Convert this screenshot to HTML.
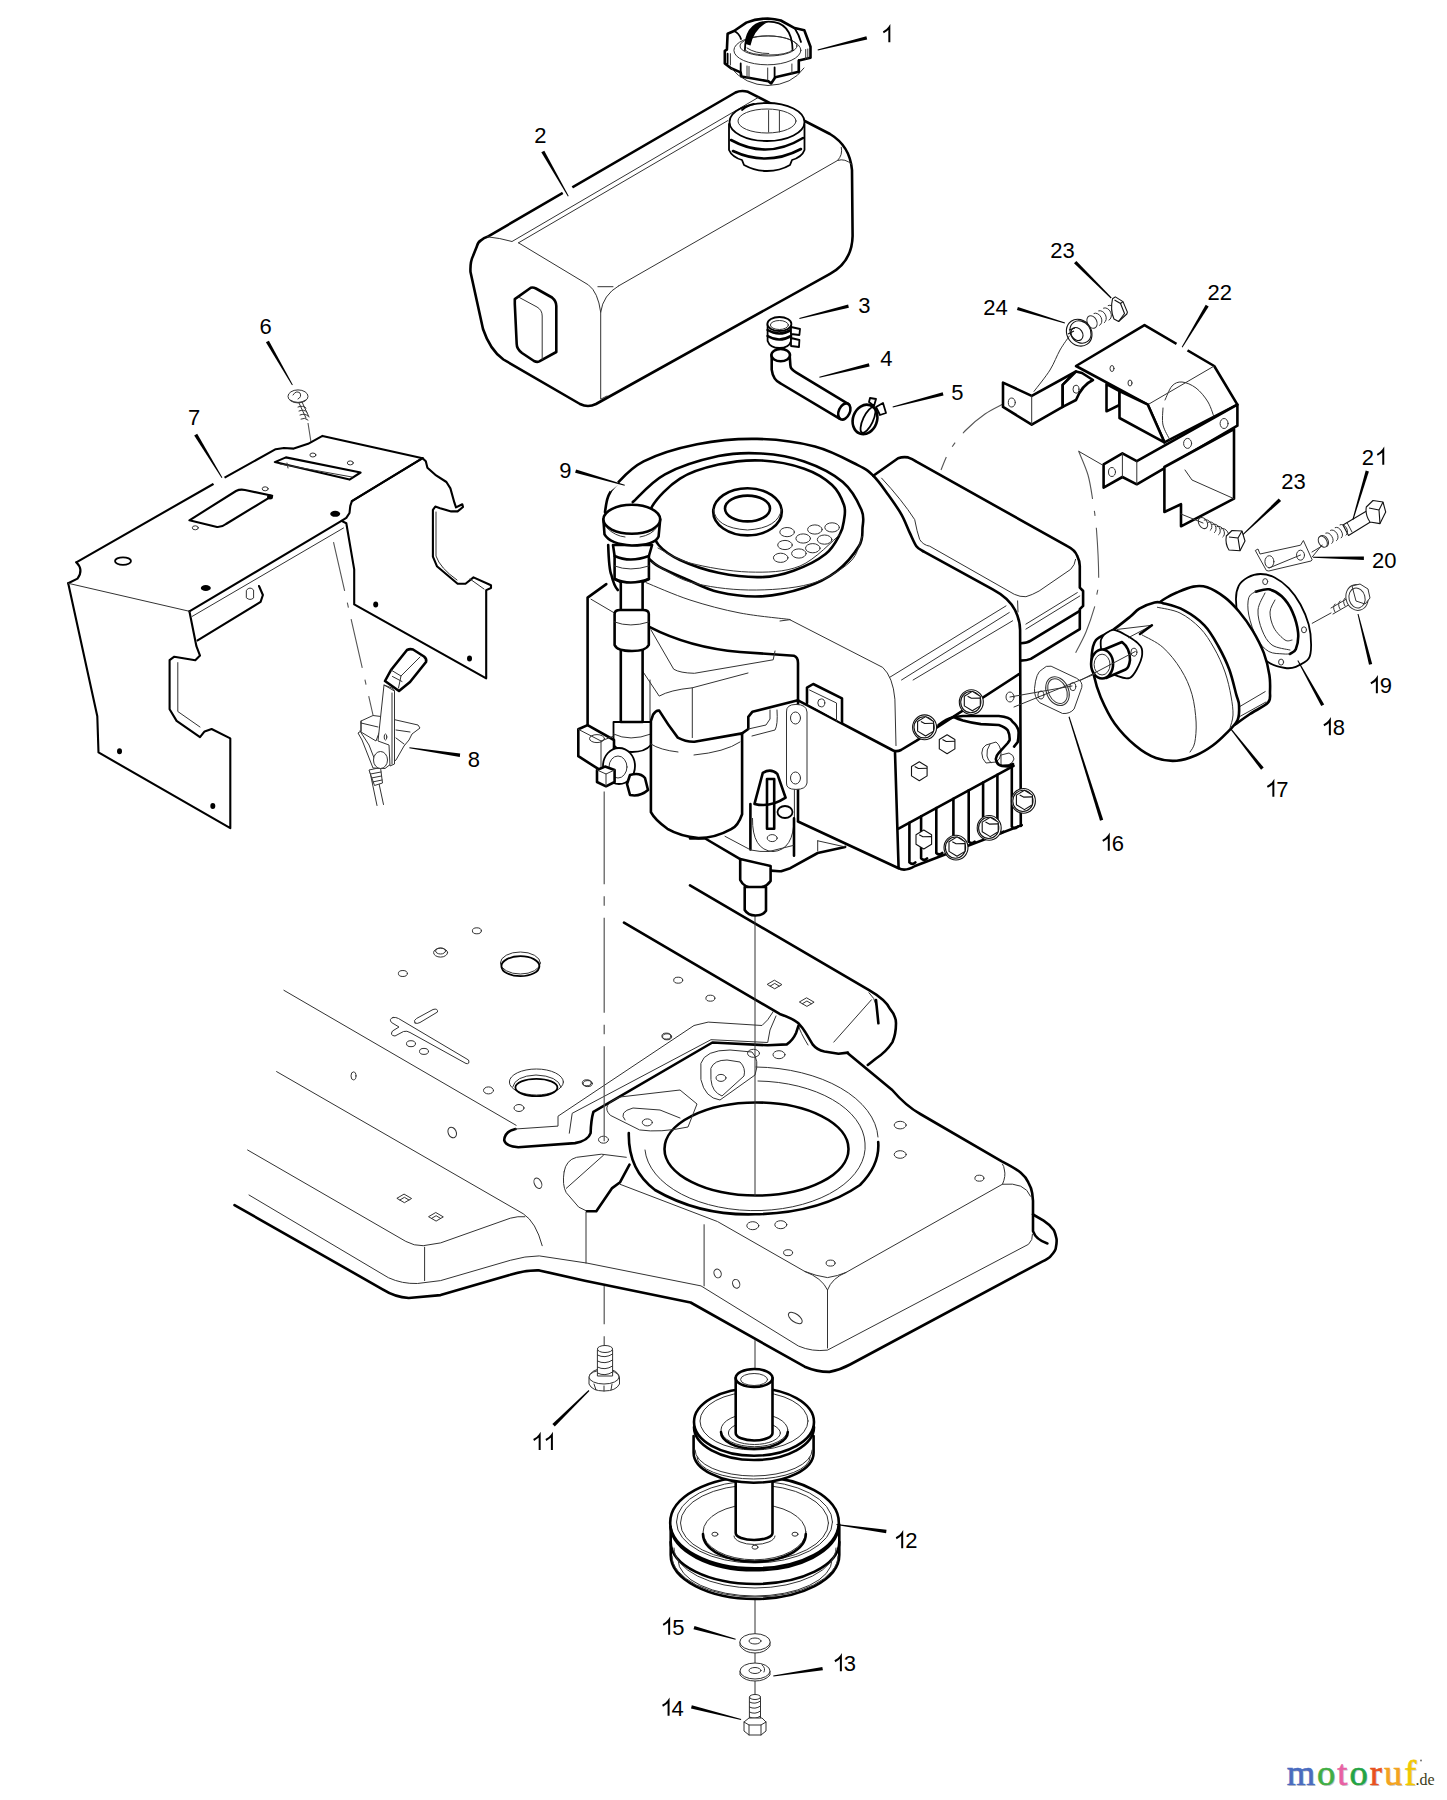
<!DOCTYPE html>
<html><head><meta charset="utf-8"><style>
html,body{margin:0;padding:0;background:#fff;overflow:hidden;}
svg{display:block;}
.k{fill:none;stroke:#000;stroke-width:2.6;stroke-linejoin:round;stroke-linecap:round;}
.kw{fill:#fff;stroke:#000;stroke-width:2.6;stroke-linejoin:round;stroke-linecap:round;}
.m{fill:none;stroke:#000;stroke-width:1.8;stroke-linejoin:round;stroke-linecap:round;}
.mw{fill:#fff;stroke:#000;stroke-width:1.8;stroke-linejoin:round;stroke-linecap:round;}
.t{fill:none;stroke:#333;stroke-width:1;stroke-linejoin:round;stroke-linecap:round;}
.tw{fill:#fff;stroke:#333;stroke-width:1;stroke-linejoin:round;}
.b{fill:none;stroke:#111;stroke-width:1.1;stroke-linejoin:round;}
.bw{fill:#fff;stroke:#111;stroke-width:1.1;stroke-linejoin:round;}
.bk{fill:none;stroke:#000;stroke-width:2.1;stroke-linejoin:round;stroke-linecap:round;}
.d{fill:none;stroke:#555;stroke-width:1.1;stroke-dasharray:50 12 5 12;}
.f{fill:#000;stroke:none;}
.w{fill:#fff;stroke:none;}
.ld{fill:none;stroke:#000;stroke-width:2.2;stroke-linecap:butt;}
text{font-family:"Liberation Sans",sans-serif;font-size:22px;fill:#000;}
</style></head><body>
<svg width="1447" height="1800" viewBox="0 0 1447 1800">
<g id="chassis">
<!-- left panel lines -->
<path class="t" d="M283.9,990.3 L516.1,1125.3"/>
<path class="t" d="M276.6,1071.6 L523.3,1213.8 Q536,1222 542.2,1245.7"/>
<path class="t" d="M247.6,1150 L405.8,1241.4 Q414,1246 423.2,1245.7 L440.6,1242.9 L510.3,1218.2 Q518,1216 524.8,1216.7"/>
<path class="t" d="M249,1195 L388.4,1277.7 Q402,1284 417.4,1283.5 L440.6,1280.6 L510.3,1260.3 Q525,1256 539.3,1255.9 L587,1263.1 L701,1285.9 L798.4,1346 Q812,1352 827.5,1350.1 L1028.5,1244.3 Q1033,1240 1032.5,1234.3"/>
<path class="k" d="M234.5,1205.1 L382.6,1289.3 Q395,1297 408.7,1298 L440.6,1295.1 L510.3,1274.8 Q525,1270 539.3,1270.4 L584.9,1280.7 L690.6,1302.5 L804.7,1366.7 Q817,1372 829.5,1371.9 Q840,1370 850.1,1364.5 L1042.1,1261.6 Q1049,1258.5 1051.2,1255.5 Q1055.8,1250 1055.8,1247.9 Q1057,1242 1056.5,1238.8 Q1055,1232 1053.5,1229.7 Q1049,1224 1043.6,1220.6 L1033,1214.5"/>
<path class="t" d="M424.6,1247.2 L424.6,1280.6 M586,1212.3 L586,1263.1 M704.1,1224.7 L704.1,1285.9 M827.5,1290 L827.5,1348"/>
<!-- top face edge of right block -->
<path class="t" d="M620.1,1184.3 L717.6,1221.6 L804.7,1271.4 Q816,1276 827.5,1277.6 Q838,1276 846.1,1272.4 L1002.5,1184.2 Q1006,1176 1004.4,1170 Q1004,1166 1002.5,1164.1"/>
<path class="t" d="M804.7,1271.4 Q822,1278 827.5,1290 Q832,1278 846.1,1272.4 M1002.5,1184.2 Q1025,1182 1030.5,1196.2"/>
<!-- main right outline -->
<path class="k" d="M847.5,1053 L892.2,1090 Q906,1106 920.3,1114 L1001.8,1161.3 Q1015,1168 1020.8,1172.7 Q1026,1177 1028.4,1182.6 Q1031.5,1188 1032.2,1193.2 L1033,1200.8 L1033,1231.2 Q1036,1240 1047.4,1243.4"/>
<!-- rails -->
<path class="k" d="M624,922.6 L779.7,1013.9 Q792,1018 798.5,1023.3 Q803,1028 805.6,1032.7 L812.6,1044.4 Q817,1050 824.4,1051.5 L838.5,1053.8 L847.9,1052.6"/>
<path class="k" d="M690,885.4 L869.5,990.4 Q886,1000 890.2,1009.2 Q896,1016 896,1023.3 Q896,1034 892.5,1042.1 Q886,1052 876,1058.5 L867.8,1064.9"/>
<path class="t" d="M833.8,1042.1 L871.4,999.8 M869,992.7 Q875,998 876,1005 M798.5,1025.6 Q800,1032 808,1045"/><path class="k" d="M876,1000 L878.4,1023.3"/>
<!-- bump between rails -->
<path class="k" d="M798.5,1025.6 L796.2,1032.7 Q793,1040 786.8,1044.4 L767.7,1045.3 L712.4,1042.5 L593.4,1111.9 Q591,1120 590.6,1133.2 Q588,1141 575,1143.1 L518.3,1147.3 Q505,1146 504.2,1140 Q505,1131 515.5,1129"/>
<path class="t" d="M515.5,1129 L558,1126.1 L558,1116.2 L694,1025.5 L708.2,1022.1 L762,1025.5 L767.7,1019.8 L773.4,1011.3 M569.3,1133.2 L572.2,1113.3 L711,1039.7 L767.7,1042.5 L770,1030 L776,1016"/>
<!-- big hole and rings -->
<ellipse class="k" cx="756.5" cy="1149" rx="92" ry="46.5"/>
<path class="k" d="M628.8,1133 Q628,1170 655,1190 Q700,1216 755,1214.3 Q820,1213 860,1185 Q880,1165 878.2,1142"/>
<path class="t" d="M756,1067 A125,73 0 0 1 878,1137"/>
<path class="t" d="M645,1150 A110,64 0 1 0 865,1143 A110,64 0 0 0 758,1081"/>

<path class="t" d="M701,1063 Q705,1050 730,1050 L752,1052 Q760,1060 755,1075 L720,1100 Q705,1098 701,1080 Z M711,1068 Q714,1060 727,1060 L740,1062 Q746,1068 744,1076 L722,1096 Q712,1092 711,1080 Z"/>
<path class="t" d="M610,1115 Q600,1105 620,1097 L680,1090 L697,1104 L688,1127 Q660,1133 640,1130 Z M625,1120 Q618,1112 633,1108 L660,1110 L680,1118"/>
<!-- wedge -->
<path class="t" d="M564.1,1171.8 Q566,1160 576.6,1157.3 L601.5,1154.2 L626.3,1157.3 M566.2,1188.4 L603.5,1155.2 M564.1,1171.8 Q562,1185 566.2,1192.6 L578.7,1207.1 L587,1211.2"/>
<path class="k" d="M629.5,1164.6 L620.1,1182.2 L611.8,1188.4 L596.3,1211.2 L587,1211.2"/>
<!-- holes -->
<g class="t">
<ellipse cx="476.9" cy="930.8" rx="4.5" ry="3"/>
<ellipse cx="440.6" cy="952.6" rx="7" ry="4.5"/><ellipse cx="440.6" cy="951" rx="5" ry="3"/>
<ellipse cx="402.9" cy="973.5" rx="4.5" ry="3"/>
<ellipse cx="353.5" cy="1075.9" rx="2.5" ry="4"/>
<ellipse cx="488.5" cy="1090.4" rx="5" ry="3.5"/>
<ellipse cx="519" cy="1108" rx="5" ry="3.5"/>
<ellipse cx="452.2" cy="1132.5" rx="4" ry="5.5" transform="rotate(-25 452.2 1132.5)"/>
<ellipse cx="537.9" cy="1183.3" rx="3.5" ry="5.5" transform="rotate(-25 537.9 1183.3)"/>
<ellipse cx="587.8" cy="1083.6" rx="4.5" ry="3"/>
<ellipse cx="603.5" cy="1139.7" rx="5" ry="3.5"/>
<ellipse cx="667.1" cy="1036.8" rx="4.5" ry="3"/>
<ellipse cx="678.2" cy="980.2" rx="4.5" ry="3"/>
<ellipse cx="710.4" cy="998.2" rx="4.5" ry="3"/>
<ellipse cx="666.4" cy="1036.1" rx="4.5" ry="3"/>
<ellipse cx="586.8" cy="1082.8" rx="4.5" ry="3"/>
<ellipse cx="647.3" cy="1122.4" rx="5" ry="3.5"/>
<ellipse cx="721" cy="1077.9" rx="5" ry="3.5"/>
<ellipse cx="753.5" cy="1053.3" rx="6" ry="4"/>
<ellipse cx="779" cy="1054.7" rx="6" ry="4"/>
<ellipse cx="900.2" cy="1125.1" rx="6" ry="3.8"/>
<ellipse cx="900.2" cy="1154.5" rx="6" ry="3.8"/>
<ellipse cx="979.4" cy="1178.2" rx="4.5" ry="3"/>
<ellipse cx="752.8" cy="1225.7" rx="6" ry="4"/>
<ellipse cx="780.8" cy="1224.7" rx="6" ry="4"/>
<ellipse cx="788.1" cy="1252.7" rx="4.5" ry="3"/>
<ellipse cx="830.6" cy="1263.1" rx="4.5" ry="3"/>
<ellipse cx="717.6" cy="1273.4" rx="3.5" ry="4.5" transform="rotate(-20 717.6 1273.4)"/>
<ellipse cx="736.2" cy="1283.8" rx="3.5" ry="4.5" transform="rotate(-20 736.2 1283.8)"/>
<ellipse cx="795.3" cy="1318" rx="8" ry="4" transform="rotate(35 795.3 1318)"/>
<ellipse cx="520.4" cy="963" rx="20" ry="11"/>
<ellipse cx="536.4" cy="1082" rx="27" ry="13"/>
<path d="M404.4,1194.3 L411.6,1198.5 L404.4,1202.7 L397.2,1198.5 Z M399.9,1200.0 L404.4,1197.3 L408.9,1200.0 M436.1,1212.7 L443.3,1216.9 L436.1,1221.1 L428.9,1216.9 Z M431.6,1218.4 L436.1,1215.7 L440.6,1218.4 M774.7,980.4 L781.9,984.6 L774.7,988.8 L767.5,984.6 Z M770.2,986.1 L774.7,983.4 L779.2,986.1 M806.9,998.0 L814.1,1002.2 L806.9,1006.4 L799.7,1002.2 Z M802.4,1003.7 L806.9,1001.0 L811.4,1003.7"/>
<path d="M393,1017.5 Q388.5,1019 391.5,1022.5 L399,1027 L392.5,1031 Q389.5,1035.5 395,1036 L403.5,1031.5 Q407,1030.5 410,1032.5 L466,1063.5 Q470,1064.5 468.5,1060 L398.5,1018.5 Q396,1017 393,1017.5 Z M415,1023 Q413,1020.5 416.5,1018.5 L433,1009.5 Q438,1008 437.5,1012 L420,1022.5 Q417,1024.2 415,1023 Z"/>
<ellipse cx="411" cy="1043.7" rx="4.5" ry="3"/>
<ellipse cx="424" cy="1051.4" rx="4.5" ry="3"/>
</g>
<ellipse class="m" cx="520.4" cy="966.2" rx="19" ry="10"/>
<ellipse class="m" cx="536.4" cy="1087.5" rx="21" ry="8.7"/>
<path class="t" d="M512.7,1087 Q515,1076 536,1075 Q558,1076 561,1087"/>
</g>

<g id="lower">
<path d="M604.2,791.5 L604.2,1145" style="fill:none;stroke:#555;stroke-width:1.2;stroke-dasharray:95 12 9.5 12;stroke-dashoffset:2.2"/>
<path d="M604.2,1285.9 L604.2,1346" style="fill:none;stroke:#555;stroke-width:1.2;stroke-dasharray:95 12 9.5 12;stroke-dashoffset:56.7"/>
<path class="t" d="M755,916 L755,1196 M755,1340.5 L755,1380 M755,1600 L755,1720"/>
<path class="tw" d="M589,1378 Q589,1370 604,1368 Q619.5,1370 619.5,1378 L619.5,1384 Q616,1391 604,1391 Q592,1391 589,1384 Z"/>
<ellipse class="tw" cx="604" cy="1377" rx="15" ry="7"/>
<path class="t" d="M594,1384 L596,1390 M612,1384 L611,1390 M604,1386 L604,1391"/>
<path class="tw" d="M597.4,1350 L597.4,1376 L612.6,1376 L612.6,1350 Z"/>
<ellipse class="tw" cx="605" cy="1349" rx="7.6" ry="3.5"/>
<path class="t" d="M597.4,1355 Q605,1359 612.6,1354"/>
<path class="t" d="M597.4,1361 Q605,1365 612.6,1360"/>
<path class="t" d="M597.4,1367 Q605,1371 612.6,1366"/>
<path class="t" d="M597.4,1373 Q605,1377 612.6,1372"/>
<path class="kw" d="M670.7,1524.6 L670.7,1555 A84.3,44 0 0 0 839.3,1555 L839.3,1524.6 Z"/>
<path class="k" d="M670.7,1542 A84.3,42 0 0 0 839.3,1542"/>
<path class="t" d="M674,1548 A81,40 0 0 0 836,1548 M678,1560 A77,36 0 0 0 832,1560 M672,1556 A83,41 0 0 0 838,1556"/>
<ellipse class="kw" cx="754.5" cy="1522.5" rx="84.3" ry="45.8"/>
<ellipse class="t" cx="754.5" cy="1522" rx="78" ry="41"/>
<ellipse class="t" cx="754.5" cy="1523" rx="74" ry="38"/>
<path class="k" d="M670.5,1527 A84.2,45.5 0 0 0 838.7,1527"/>
<ellipse class="t" cx="754.5" cy="1532" rx="51.4" ry="27.8"/>
<path class="k" d="M703,1534 A51.4,27.8 0 0 0 805.8,1534"/>
<ellipse class="t" cx="714.9" cy="1534.2" rx="3" ry="2"/><ellipse class="t" cx="795" cy="1534.2" rx="3" ry="2"/><ellipse class="t" cx="755" cy="1547.2" rx="3" ry="2"/>
<path class="kw" d="M735.7,1470 L735.7,1533 A18.4,7 0 0 0 772.5,1533 L772.5,1470 Z"/>
<path class="t" d="M734,1536 A20.5,8.5 0 0 0 775,1536"/>
<path class="w" d="M693.6,1422.3 L693.6,1452.7 A60,30 0 0 0 813.6,1452.7 L813.6,1422.3 Z"/>
<path class="k" d="M693.6,1436 L693.6,1452.7 A60,30 0 0 0 813.6,1452.7 L813.6,1436"/>
<path class="t" d="M697,1457 A56.6,22 0 0 0 810.2,1457 M695,1450 A58.6,26 0 0 0 812.2,1450"/>
<ellipse class="kw" cx="754" cy="1422" rx="60" ry="33.7"/>
<path class="k" d="M694,1427 A60,33 0 0 0 814,1427"/>
<ellipse class="t" cx="754" cy="1421" rx="54" ry="29"/>
<ellipse class="t" cx="754.4" cy="1430" rx="33.4" ry="16.7"/>
<path class="k" d="M721,1432 A33.4,16.7 0 0 0 787.8,1432"/>
<ellipse class="t" cx="754.4" cy="1433" rx="26" ry="11.5"/>
<path class="kw" d="M735.7,1378 L735.7,1433 A18.4,7.5 0 0 0 772.5,1433 L772.5,1378 Z"/>
<ellipse class="kw" cx="754.1" cy="1378" rx="18.4" ry="9"/>
<ellipse class="t" cx="754.1" cy="1379.5" rx="13.5" ry="6"/>
<path class="tw" d="M740,1642 L740,1646 Q745,1653 755,1653 Q765,1653 770,1646 L770,1642 Z"/>
<ellipse class="tw" cx="755" cy="1642" rx="15.2" ry="8.3"/>
<ellipse class="t" cx="755" cy="1641" rx="6" ry="3"/>
<path class="tw" d="M740,1671 L740,1675 Q745,1681 755,1681 Q765,1681 770,1675 L770,1671 Z"/>
<ellipse class="tw" cx="755" cy="1671" rx="15" ry="8"/>
<ellipse class="t" cx="755" cy="1670.5" rx="6" ry="3"/>
<path class="t" d="M762,1665 Q766,1668 764,1672"/>
<path class="tw" d="M749.4,1697 L749.4,1720 L760.5,1720 L760.5,1697 Z"/>
<ellipse class="tw" cx="755" cy="1697" rx="5.5" ry="2.5"/>
<path class="t" d="M749.4,1702 Q755,1705 760.5,1701"/>
<path class="t" d="M749.4,1707 Q755,1710 760.5,1706"/>
<path class="t" d="M749.4,1712 Q755,1715 760.5,1711"/>
<path class="t" d="M749.4,1717 Q755,1720 760.5,1716"/>
<path class="tw" d="M744,1722 L749,1718 L762,1718 L766,1722 L766,1731 L761,1735 L749,1735 L744,1731 Z"/>
<path class="t" d="M744,1722 L749,1725 L761,1725 L766,1722 M749,1725 L749,1735 M761,1725 L761,1735"/>
</g>
<g id="bracket7">
<path class="d" d="M308,423 L313,455"/>
<path class="w" d="M76.3,562.3 L215.1,483.0 L223.3,478.3 L275.7,449.2 L283.9,448.0 L293.8,448.6 L308.1,443.8 L322.5,435.9 L422.6,458.2 L351.9,501.1 L350.3,505.8 L349.5,513.0 L346.3,517.8 L341.5,522.0 L189.4,611.3 L68.2,583.3 L77.5,578.6 Z"/>
<path class="w" d="M68.2,583.3 L189.4,611.3 L196.4,646.2 L200.0,655.6 L195.3,660.2 L174.3,656.7 L169.6,660.2 L169.6,709.2 L176.6,720.9 L200.0,737.2 L204.6,731.4 L211.6,729.0 L230.3,738.4 L230.3,828.2 L98.5,752.4 L97.3,716.2 Z"/>
<path class="w" d="M189.4,611.3 L341.5,522.0 L346.3,523.3 L354.2,569.4 L262.0,597.0 L197.6,640.4 Z"/>
<path class="w" d="M341.5,520.9 L346.3,523.3 L354.2,569.4 L354.2,604.4 L486.2,678.3 L486.2,590.1 L491.0,588.0 L491.0,585.3 L473.5,577.4 L465.5,583.7 L457.6,583.7 L436.9,566.2 L432.9,556.7 L432.9,509.8 L435.3,506.6 L440.1,508.2 L451.2,511.4 L457.6,511.4 L463.0,507.0 L462.3,504.2 L456.0,507.4 L454.4,502.7 L450.4,488.4 L446.4,482.0 L435.3,474.8 L427.4,467.7 L425.8,461.3 L422.6,458.2 L351.9,501.1 Z"/>
<path class="bk" d="M76.3,562.3 L215.1,483.0 L223.3,478.3 L275.7,449.2 L283.9,448.0 L293.8,448.6 L308.1,443.8 L322.5,435.9 L422.6,458.2"/>
<path class="bk" d="M341.5,520.9 L346.3,523.3 L354.2,569.4 L354.2,604.4 L486.2,678.3 L486.2,590.1 L491.0,588.0 L491.0,585.3 L473.5,577.4 L465.5,583.7 L457.6,583.7 L436.9,566.2 L432.9,556.7 L432.9,509.8 L435.3,506.6 L440.1,508.2 L451.2,511.4 L457.6,511.4 L463.0,507.0 L462.3,504.2 L456.0,507.4 L454.4,502.7 L450.4,488.4 L446.4,482.0 L435.3,474.8 L427.4,467.7 L425.8,461.3 L422.6,458.2 L351.9,501.1"/>
<path class="bk" d="M422.6,458.2 L351.9,501.1 L350.3,505.8 L349.5,513.0 L346.3,517.8 L341.5,520.9 L189.4,611.3"/>
<path class="d" d="M333.5,542.2 L373,715"/>
<path class="bk" d="M189.4,611.3 L196.4,646.2 L200.0,655.6 L195.3,660.2 L174.3,656.7 L169.6,660.2 L169.6,709.2 L176.6,720.9 L200.0,737.2 L204.6,731.4 L211.6,729.0 L230.3,738.4 L230.3,828.2 L98.5,752.4 L97.3,716.2 L68.2,583.3"/>
<path class="bk" d="M68.2,583.3 L77.5,578.6 Q84,570 76.3,562.3"/>
<path class="t" d="M68.2,583.3 L189.4,611.3 M192,616.5 L343.5,528"/>
<path class="bk" d="M197.6,640.4 L260.6,601.9 L262.9,595 L259,586"/>
<path class="t" d="M177.8,662.6 L177.8,711.5 L200,727 M436,512 L436,556 Q440,568 457,580 M470,579 L484,589"/>
<path class="t" d="M246.6,590 Q250,586 253.6,590 L253.6,598 Q250,601 246.6,598 Z"/>
<path class="bk" d="M189.4,520.3 L236,491 Q240,489 245,490 L272.2,495.8 L226,524 Q222,527.3 217,527 Z"/>
<path class="bk" d="M274.8,462.1 L285.9,457.4 L360.6,472.5 L349.5,479.6 Z"/>
<path class="t" d="M280,464 L352,477 M287,463 L288,468"/>
<ellipse class="m" cx="123" cy="561.1" rx="8" ry="3.8"/>
<ellipse class="f" cx="205.8" cy="588.0" rx="5.0" ry="3.0"/>
<ellipse class="f" cx="119.5" cy="751.2" rx="2.5" ry="3.0"/>
<ellipse class="f" cx="212.8" cy="806.0" rx="2.5" ry="3.0"/>
<ellipse class="f" cx="335.2" cy="513.8" rx="5.0" ry="3.0"/>
<ellipse class="f" cx="375.7" cy="604.4" rx="2.5" ry="3.0"/>
<ellipse class="f" cx="469.5" cy="658.4" rx="2.5" ry="3.0"/>
<ellipse class="f" cx="270.0" cy="497.1" rx="3.0" ry="2.5"/>
<ellipse class="t" cx="195.3" cy="527.8" rx="3" ry="2"/>
<ellipse class="t" cx="265.2" cy="488.8" rx="3" ry="2"/>
<ellipse class="t" cx="312.9" cy="455.0" rx="3" ry="2"/>
<ellipse class="t" cx="350.3" cy="462.9" rx="3" ry="2"/>
</g>
<g id="screw6">
<ellipse class="tw" cx="298" cy="396.4" rx="10" ry="6.5"/>
<path class="t" d="M293,395 Q296,390 300,393 Q302,397 298,399 M290,400 Q298,405 306,400"/>
<path class="t" d="M299,403 L306,418 M302,402 L309,417 M298,407 Q303,405 306,408 M299,411 Q304,409 307,412 M300,415 Q305,413 308,416 M301,419 Q305,417 308,420"/>
</g>
<g id="lever8">
<path class="t" d="M370,772 L377,805.5 M376.5,772 L383.5,804.5"/>
<path class="tw" d="M369,770 L380.5,767.5 L382.5,783 L374.5,785.5 Z"/>
<path class="t" d="M370.5,774 L381,772 M371.5,778 L381.5,776 M372.5,782 L382,780"/>
<path class="tw" d="M361,721 L373,715.5 L381,716.5 L396,720 L418,725 L420,728 L412,734 L409,740 L404,746 L396,760 L385,768.5 L373,768 L362,740 L358,733 L361,731 Z"/>
<path class="t" d="M361,721 L361,732 L376,741 L379,733 M361,723 L378,727 M396,730 L410,732 M396,738 L404,744 M360,731 L369,745 L378,768"/>
<ellipse class="tw" cx="380.5" cy="760" rx="7" ry="8.5"/>
<path class="tw" d="M384,685 L392,688 L394.5,691 L394.5,764 L390,766 L389,745 L378,741 Z"/>
<path class="t" d="M392,693 L392,764 M384,685 L394.5,691"/>
<ellipse class="t" cx="385.5" cy="737" rx="1.3" ry="3"/>
<path class="kw" d="M385,681 L391,670 L407,650 Q410,648.5 413,649.5 L424,656.5 Q427,659 426,662 L410,682 L399,691 Z"/>
<path class="t" d="M391,670 L401,676 L398.5,688 M392.5,676.5 L402,681.5 M401,676 L420,657"/>
</g>
<g id="hose">
<path class="mw" d="M767.6,324 L767.6,341 Q770,348 779.4,348 Q789,348 791.1,341 L791.1,324 Z"/>
<ellipse class="mw" cx="779.4" cy="324" rx="12" ry="7"/>
<ellipse class="t" cx="779.4" cy="325" rx="9" ry="4.5"/>
<path class="k" d="M767.6,330 Q779,337 791.1,330 M767.6,336 Q779,343 791.1,336"/>
<path class="mw" d="M791,327 L800,329 L799.4,335 L791,334 Z M791,338 L799.4,340 L799,347 L791,346 Z"/>
<path class="kw" d="M771.7,355 L771.7,369.6 Q773,380 780.7,383.5 L839.5,418.7 L848.5,404.2 L796,372.4 Q790.4,369 790.4,365.5 L789.7,355.8 Z"/>
<ellipse class="kw" cx="780.7" cy="355.1" rx="9.3" ry="6.2"/>
<ellipse class="kw" cx="844.3" cy="411.5" rx="5.5" ry="8.5" transform="rotate(25 844.3 411.5)"/>
<ellipse class="kw" cx="865" cy="419.4" rx="12" ry="15" transform="rotate(20 865 419.4)"/>
<ellipse class="m" cx="868" cy="420" rx="5" ry="14" transform="rotate(25 868 420)"/>
<path class="mw" d="M869,402 L870,398 L876,399 L874,406 Z M876,407 L883,403 L886,413 L880,415 Z"/>
</g>
<g id="engine">
<path class="w" d="M587.6,597.0 L606.0,584.0 L605.0,512.0 L615.7,485.0 L643.6,461.4 L697.1,444.3 L757.1,438.9 L814.9,446.5 L857.8,465.2 L873.3,475.7 L898.1,458.2 L908.1,457.4 L916.4,461.6 L1067.3,546.2 L1080.0,566.0 L1083.0,591.0 L1083.0,606.0 L1080.0,629.0 L1030.8,658.9 L1021.0,661.0 L1022.0,826.0 L899.0,870.0 L850.0,865.0 L790.0,870.0 L770.0,872.0 L770.0,916.0 L745.0,916.0 L742.0,858.0 L703.0,838.0 L668.0,829.0 L651.0,813.0 L614.0,787.0 L597.0,787.0 L578.0,756.0 L578.0,729.0 L587.6,725.0 Z"/>
<path class="w" d="M873.3,475.7 L898.1,458.2 Q903,456.5 908.1,457.4 Q912,458.5 916.4,461.6 L1067.3,546.2 Q1075,550 1077.3,556.1 Q1079.8,561 1079.8,566.1 L1079.8,587.6 L1083.1,591 L1083.1,605.9 L1079.8,609.2 L1079.8,629.1 L1030.8,658.9 Q1027,660.6 1020.5,660.6 L1020.1,625.8 L1000,600 L923,551.1 Z"/>
<path class="k" d="M873.3,475.7 L898.1,458.2 Q903,456.5 908.1,457.4 Q912,458.5 916.4,461.6 L1067.3,546.2 Q1075,550 1077.3,556.1 Q1079.8,561 1079.8,566.1 L1079.8,587.6 L1083.1,591 L1083.1,605.9 L1079.8,609.2 L1079.8,629.1 L1030.8,658.9 Q1027,660.6 1020.5,660.6"/>
<path class="k" d="M1079.8,610.8 L1030.8,640.7 Q1027,643.2 1020.9,643.2"/>
<path class="t" d="M881.6,478.1 Q902,500 914.7,519.6 Q917,532 919.7,539.5 Q923,545 929.7,546.2 L1014.3,594.3 Q1020,597 1025.9,596.7 Q1032,595 1039.1,591 L1070.6,569.4 Q1075,565 1075.6,559.4"/>
<path class="t" d="M1017.6,600.9 L1018,612 M1025.9,624.1 L1077.3,592.6 M1025.9,629.1 L1079.8,596"/>
<path class="k" d="M605.0,512.0 C605.5,509.5 606.2,501.5 608.0,497.0 C609.8,492.5 609.8,490.9 615.7,485.0 C621.6,479.1 630.0,468.2 643.6,461.4 C657.2,454.6 678.2,448.1 697.1,444.3 C716.0,440.6 737.5,438.5 757.1,438.9 C776.7,439.3 798.1,442.1 814.9,446.5 C831.7,450.9 848.1,460.3 857.8,465.2 C867.5,470.1 868.2,470.8 873.3,475.7 C878.4,480.6 883.5,488.2 888.2,494.7 C892.9,501.2 897.9,508.2 901.5,514.6 C905.1,521.0 907.3,527.6 909.8,532.9 C912.3,538.2 914.2,543.2 916.4,546.2 C918.6,549.2 921.9,550.3 923.0,551.1"/>
<path class="k" d="M923,551.1 L992.7,589.3 Q1009,598 1015,610 Q1020,620 1020.1,630 L1020.8,826"/>
<path class="t" d="M789.8,619.7 L882.7,667.4 Q893,677 894.9,699.2 L896,745.6"/>
<path class="t" d="M646.0,582.6 C653.3,585.5 674.3,594.9 690.0,600.0 C705.7,605.1 723.3,609.8 740.0,613.0 C756.7,616.2 781.7,618.4 790.0,619.5"/>
<path class="t" d="M789.8,619.7 L780,621"/>
<path class="t" d="M889.9,677.2 L1006,605.9 M901.5,680 L1009.3,612.5 M913.1,680 L1012.6,620.8"/>
<path class="k" d="M632.8,502.1 C638.2,497.5 650.7,482.0 665.0,474.3 C679.3,466.6 702.4,459.6 718.5,456.1 C734.6,452.6 747.1,452.6 761.4,453.5 C775.7,454.4 790.6,456.8 804.2,461.5 C817.8,466.2 833.2,473.9 842.8,482.0 C852.3,490.1 858.2,502.3 861.5,510.0 C864.8,517.7 862.9,522.0 862.5,528.0 C862.1,534.0 863.4,538.8 859.0,546.0 C854.6,553.2 845.5,564.5 836.4,571.5 C827.3,578.5 816.7,583.6 804.2,587.8 C791.7,591.9 775.7,595.7 761.4,596.4 C747.1,597.1 731.0,595.0 718.5,592.1 C706.0,589.2 696.4,583.5 686.4,579.2 C676.4,574.9 665.5,570.4 658.6,566.4 C651.7,562.4 647.3,556.9 645.0,555.0"/>
<path class="k" d="M652.1,506.4 C656.8,498.2 668.9,485.6 680.0,478.6 C691.1,471.6 704.9,467.6 718.5,464.6 C732.1,461.6 747.1,459.8 761.4,460.5 C775.7,461.2 792.4,464.6 804.2,468.7 C816.0,472.8 825.5,478.9 832.1,485.0 C838.7,491.1 842.0,499.2 844.0,505.0 C846.0,510.8 844.7,515.2 844.0,520.0 C843.3,524.8 843.1,528.3 840.0,534.0 C836.9,539.7 833.4,547.9 825.6,554.0 C817.9,560.1 804.2,566.9 793.5,570.7 C782.8,574.6 773.9,576.8 761.4,577.1 C748.9,577.5 732.1,575.6 718.5,572.8 C704.9,569.9 690.0,564.6 680.0,560.0 C670.0,555.4 663.2,550.4 658.6,545.0 C654.0,539.6 653.2,534.2 652.1,527.8 C651.0,521.4 647.5,514.6 652.1,506.4 Z"/>
<path class="t" d="M658.0,548.0 C663.3,550.5 674.9,559.0 690.0,563.0 C705.1,567.0 730.2,571.5 748.5,572.0 C766.8,572.5 784.6,572.3 800.0,566.0 C815.4,559.7 833.8,539.3 840.6,534.0"/>
<path class="t" d="M652.1,562.1 C658.4,565.4 673.9,577.4 690.0,582.0 C706.1,586.6 728.5,589.7 748.5,590.0 C768.5,590.3 793.1,588.7 810.0,584.0 C826.9,579.3 841.3,569.9 850.0,562.0 C858.7,554.1 860.1,540.7 862.1,536.4"/>
<ellipse class="kw" cx="747.5" cy="511.8" rx="34.3" ry="23.6"/>
<path class="t" d="M713.5,509 Q715,528 747.5,530 Q779,528 781.5,509"/>
<ellipse class="k" cx="747.5" cy="508.5" rx="22.5" ry="12.9"/>
<ellipse class="t" cx="787.1" cy="532.1" rx="7.3" ry="4.6"/>
<ellipse class="t" cx="814.9" cy="529.5" rx="7.3" ry="4.6"/>
<ellipse class="t" cx="832.1" cy="527.4" rx="7.3" ry="4.6"/>
<ellipse class="t" cx="803.2" cy="538.5" rx="7.3" ry="4.6"/>
<ellipse class="t" cx="824.6" cy="539.6" rx="7.3" ry="4.6"/>
<ellipse class="t" cx="785.0" cy="545.0" rx="7.3" ry="4.6"/>
<ellipse class="t" cx="812.8" cy="548.2" rx="7.3" ry="4.6"/>
<ellipse class="t" cx="798.9" cy="553.5" rx="7.3" ry="4.6"/>
<ellipse class="t" cx="780.7" cy="557.8" rx="7.3" ry="4.6"/>
<path class="k" d="M587.6,725 L587.6,597.6 L606.3,584.1"/>
<path class="t" d="M591,599.2 L615.3,613.5"/>
<path class="k" d="M648.8,626.7 Q690,648 740,652 L793.9,655.7 Q798,657 798,663 L798,700.3"/>
<path class="t" d="M650.9,629.8 L673.7,669.2 Q680,673 694.4,673.3 L773.2,659.8 L775,651 M642.6,671.2 L659.2,696.1 Q670,690 692.3,687.8 L748,673 M692.3,687.8 L692.3,737.6 M650,680 L650,720"/>
<path class="mw" d="M613.5,722 L613.5,745 Q620,752 632,752 Q645,752 650.9,745 L650.9,722 Z"/>
<path class="t" d="M613.5,734 Q630,742 650.9,734"/>
<path class="kw" d="M620.8,580 L620.8,722 L642.6,722 L642.6,580 Z"/>
<path class="kw" d="M614.6,614 Q614.6,610 620,610 L643,610 Q648.8,610 648.8,614 L648.8,645 Q646,651 632,651 Q617,651 614.6,645 Z"/>
<path class="t" d="M614.6,622 Q630,628 648.8,622"/>
<path class="kw" d="M587.6,725.1 L578.3,729.3 L578.3,756.2 L601,770.7 L614,765 L614,740 Z"/>
<path class="t" d="M578.3,729.3 L601,741 L614,736 M601,741 L601,770"/>
<ellipse class="t" cx="597" cy="738.6" rx="7.5" ry="4"/>
<ellipse class="mw" cx="619" cy="766" rx="16" ry="18"/>
<ellipse class="t" cx="618" cy="767" rx="9" ry="11"/>
<path class="kw" d="M597,770 L605,766.6 L614.6,770 L614.6,782 L606,786.3 L597,782 Z"/>
<path class="t" d="M597,770 L606,774 L614.6,770 M606,774 L606,786"/>
<path class="kw" d="M627,784 L630,775 Q640,772 645,778 L648,790 Q640,797 630,795 Z"/>
<path class="kw" d="M653,714.8 Q656,710 659.2,710.6 Q668,725 677.8,737.6 Q686,742 694.4,741.7 L742.1,733.4 L742.1,814.3 Q738,826 731.7,828.8 Q715,838 698.5,838.1 Q680,836 667.4,828.8 Q655,820 650.9,812.2 L650.9,721 Z"/>
<path class="t" d="M650.9,744 Q660,750 678,752 M694,755 Q725,752 740,742"/>
<path class="k" d="M742.1,733.4 L748.3,729 L748.3,716.8 L752.5,711.7 L798,700.3 L893.2,750.5 Q897,752 901,750 L916.6,740.6 L1019,674.1"/>
<path class="t" d="M748.3,729 L766,725 L770,719 L770,710 M752,736 L775,730 Q778,725 777,710"/>
<path class="k" d="M895,752.3 L898.6,868.2 L798,821.5 M798,700.3 L798,821.5"/>
<path class="t" d="M794.4,789 L794.4,855.6"/>
<path class="k" d="M898.6,828.7 L1013.6,765.8"/>
<path class="k" d="M909.4,822.8 L909.4,862.4 Q912.4,865.4 915.4,862.4"/>
<path class="k" d="M921.1,816.4 L921.1,858.3 Q924.1,861.3 927.1,858.3"/>
<path class="k" d="M936.3,808.1 L936.3,853.0 Q939.3,856.0 942.3,853.0"/>
<path class="k" d="M953.4,798.7 L953.4,847.0 Q956.4,850.0 959.4,847.0"/>
<path class="k" d="M968.7,790.4 L968.7,841.7 Q971.7,844.7 974.7,841.7"/>
<path class="k" d="M983.1,782.5 L983.1,836.6 Q986.1,839.6 989.1,836.6"/>
<path class="k" d="M997.4,774.7 L997.4,831.6 Q1000.4,834.6 1003.4,831.6"/>
<path class="k" d="M1011.8,766.8 L1011.8,826.6 Q1014.8,829.6 1017.8,826.6"/>
<path class="k" d="M898.6,868.2 Q905,872 915,866 L1021.7,825.1"/>
<ellipse class="bw" cx="971.3" cy="702.1" rx="12.0" ry="12.4"/><ellipse class="b" cx="970.8" cy="702.1" rx="10.1" ry="10.6"/><path class="bw" d="M980.3,705.9 L972.3,710.8 L964.3,705.9 L964.3,696.3 L972.3,691.4 L980.3,696.3 Z"/><path class="b" d="M967.6,696.3 L971.4,698.3 L980.3,698.1"/>
<ellipse class="bw" cx="924.6" cy="727.3" rx="12.0" ry="12.4"/><ellipse class="b" cx="924.1" cy="727.3" rx="10.1" ry="10.6"/><path class="bw" d="M933.6,731.1 L925.6,736.0 L917.6,731.1 L917.6,721.5 L925.6,716.6 L933.6,721.5 Z"/><path class="b" d="M920.9,721.5 L924.7,723.5 L933.6,723.3"/>
<ellipse class="bw" cx="1023.4" cy="800.9" rx="12.0" ry="12.4"/><ellipse class="b" cx="1022.9" cy="800.9" rx="10.1" ry="10.6"/><path class="bw" d="M1032.4,804.7 L1024.4,809.6 L1016.4,804.7 L1016.4,795.1 L1024.4,790.2 L1032.4,795.1 Z"/><path class="b" d="M1019.7,795.1 L1023.5,797.1 L1032.4,796.9"/>
<ellipse class="bw" cx="989.2" cy="827.9" rx="12.0" ry="12.4"/><ellipse class="b" cx="988.7" cy="827.9" rx="10.1" ry="10.6"/><path class="bw" d="M998.2,831.7 L990.2,836.6 L982.2,831.7 L982.2,822.1 L990.2,817.2 L998.2,822.1 Z"/><path class="b" d="M985.5,822.1 L989.3,824.1 L998.2,823.9"/>
<ellipse class="bw" cx="956.0" cy="847.6" rx="12.0" ry="12.4"/><ellipse class="b" cx="955.5" cy="847.6" rx="10.1" ry="10.6"/><path class="bw" d="M965.0,851.4 L957.0,856.3 L949.0,851.4 L949.0,841.8 L957.0,836.9 L965.0,841.8 Z"/><path class="b" d="M952.3,841.8 L956.1,843.8 L965.0,843.6"/>
<path class="bw" d="M954.9,748.9 L947.1,753.7 L939.3,748.9 L939.3,739.5 L947.1,734.8 L954.9,739.5 Z"/><path class="b" d="M942.5,739.5 L946.2,741.5 L954.9,741.3"/>
<path class="bw" d="M927.1,775.9 L919.3,780.7 L911.5,775.9 L911.5,766.5 L919.3,761.8 L927.1,766.5 Z"/><path class="b" d="M914.7,766.5 L918.4,768.5 L927.1,768.3"/>
<path class="bw" d="M931.6,844.2 L923.8,849.0 L916.0,844.2 L916.0,834.8 L923.8,830.0 L931.6,834.8 Z"/><path class="b" d="M919.2,834.8 L922.9,836.8 L931.6,836.6"/>
<path class="tw" d="M986,745 L996,742 Q1001,746 1001,754 Q1000,760 996,762 L986,763 Q981.8,759 981.8,753 Q982,747 986,745 Z"/>
<path class="t" d="M990,744 Q986,750 987,756 Q988,761 991,762.5"/>
<path class="tw" d="M1001,755 L1009,753 Q1014,755 1014,759 Q1013,763 1009,764.5 L1001,765 Z"/>
<path class="k" d="M938.6,725 Q946,719 953.9,717 L962.9,716 L998.8,716 Q1010,717 1012.3,721.4 Q1019,727 1018.6,733.1 Q1018.5,739 1017.7,742.1 L1014.1,746.6"/>
<path class="k" d="M953.9,717 Q958,719 962.9,720.5 Q972,723 980.9,724.1 L998.8,725 Q1005,727 1007.8,730.4 Q1010,735 1009.6,740.3 L1007.8,743 L998.8,752.9 Q995,757 996.1,760.1 Q997,765 1002,766 L1007.8,766.4 L1013,764"/>
<path class="tw" d="M786.5,712 Q786,704.5 796,704.4 Q806.5,704.5 807,712 L807,783 Q806,789.4 796,789.4 Q786,789.4 786.5,783 Z"/>
<ellipse class="t" cx="795.5" cy="718" rx="5" ry="6"/><ellipse class="t" cx="795.5" cy="778" rx="5" ry="6"/>
<path class="w" d="M807,702.9 L807,687.6 L813.2,684 L842,698.4 L842,722.7 Z"/>
<path class="k" d="M807,702.9 L807,687.6 L813.2,684 L842,698.4 L842,722.7"/>
<path class="t" d="M809.5,690 L836.5,703 L836.5,721"/>
<ellipse class="t" cx="821.3" cy="702.9" rx="3.5" ry="4"/>
<path class="t" d="M752.5,818.4 Q752,850 773,851.6 Q794,850 794,818.4"/>
<ellipse class="t" cx="772.2" cy="838.1" rx="5" ry="3.5"/>
<path class="kw" d="M754.5,803.9 L762.8,772.8 Q771,768 777.3,773.9 L785.6,797.7 Q770,808 754.5,803.9 Z"/>
<path class="k" d="M767,779 L767,828.8 L774.2,828.8 L774.2,779 Z"/>
<ellipse class="mw" cx="785" cy="812" rx="7.5" ry="6"/>
<path class="k" d="M750.4,804 L750.4,849.5 M794,818.4 L794,855.8"/>
<path class="k" d="M690,838.5 L705.2,838.5 L740.2,859.1 Q750,866 758.4,868.2 Q770,871.5 781.2,871.2 L790.3,868.2 L817.7,853 L845.1,846.9"/>
<path class="t" d="M725,836.3 L750.8,850 Q760,852 769,851.5 L793.4,845.4 M817.7,840.8 L845.1,846.9 M817.7,840.8 L817.7,851"/>
<path class="kw" d="M740.2,859 L740.2,880 Q744,888 755,888.5 Q766,888 770.6,881 L770.6,866 Z"/>
<path class="kw" d="M744.7,887 L744.7,910 Q748,915.5 755.4,915.5 Q763,915.5 766,910.8 L766,887 Z"/>
<path class="kw" d="M613,545 L614.6,556 L614.6,579 Q630,586 648.9,579 L648.9,556 L652.1,545 Z"/>
<path class="k" d="M614.6,556 Q630,563 648.9,556 M614.6,579 L620.8,582 M648.9,579 L642.6,582"/>
<path class="t" d="M614.6,566 Q630,572 648.9,566"/>
<path class="kw" d="M603.4,519.3 L604.5,534.3 Q610,544 631.8,545.5 Q655,545 658.6,536.4 L660.2,519.3 Z"/>
<ellipse class="kw" cx="631.8" cy="519.3" rx="28.4" ry="14.5"/>
<path class="t" d="M607,528 Q615,536 625,537 M640,537 Q652,535 657,527"/>
<path class="k" d="M608.2,545 Q609,570 611.4,575 Q614,586 617.8,590"/>
</g>
<g id="rightparts">
<path class="d" d="M1003.0,404.0 C1000.0,405.7 991.2,409.7 985.0,414.0 C978.8,418.3 971.8,424.0 966.0,430.0 C960.2,436.0 954.2,443.3 950.0,450.0 C945.8,456.7 942.5,466.7 941.0,470.0"/>
<path class="d" d="M1078.7,451.3 C1080.2,455.2 1085.7,466.9 1088.0,475.0 C1090.3,483.1 1091.3,490.8 1092.7,500.0 C1094.1,509.2 1095.5,516.9 1096.5,530.0 C1097.5,543.1 1098.7,567.9 1098.7,578.7 C1098.7,589.5 1097.4,590.3 1096.7,595.0 C1096.0,599.7 1096.5,600.5 1094.7,606.7 C1092.9,612.9 1089.2,624.2 1086.0,632.0 C1082.8,639.8 1077.1,649.8 1075.3,653.3"/>
<path class="t" d="M1078.7,451.3 L1102,464.7"/>
<path class="kw" d="M1003,382.6 L1003,406.9 L1031.7,424.6 L1062.7,406.9 L1062.7,384.8 L1076,371.5 L1031.7,395.9 Z"/>
<path class="t" d="M1031.7,395.9 L1031.7,424.6"/>
<ellipse class="t" cx="1011.8" cy="402.5" rx="3.5" ry="4.5"/>
<path class="kw" d="M1062.7,384.8 L1062.7,406.9 L1076,400 Q1082,385 1093,380 L1082,373 L1076,371.5 Z"/>
<ellipse class="t" cx="1076" cy="389.2" rx="3" ry="4"/>
<path class="kw" d="M1076,366 L1144.5,325.1 L1214.2,366 L1237.4,404.7 L1164.4,442.3 L1147.8,404.7 Z"/>
<path class="t" d="M1147.8,404.7 L1214.2,366"/>
<ellipse class="t" cx="1112" cy="368.5" rx="2" ry="3"/><ellipse class="t" cx="1130" cy="383" rx="2" ry="3"/>
<path class="kw" d="M1106.5,384 L1106.5,411.3 L1119.5,405 L1119.5,391 Z"/>
<path class="kw" d="M1119.5,391 L1119.5,418 L1164.4,442.3 L1147.8,404.7 Z"/>
<path class="t" d="M1165.0,400.0 C1166.2,397.7 1169.2,389.0 1172.0,386.0 C1174.8,383.0 1178.0,381.7 1182.0,382.0 C1186.0,382.3 1191.7,384.7 1196.0,388.0 C1200.3,391.3 1204.8,396.7 1208.0,402.0 C1211.2,407.3 1213.8,417.0 1215.0,420.0"/>
<path class="t" d="M1163.0,408.0 C1163.0,410.8 1161.8,419.7 1163.0,425.0 C1164.2,430.3 1168.8,437.5 1170.0,440.0"/>
<path class="kw" d="M1103.6,464.4 L1122.4,453.4 L1136.8,461.1 L1237.4,404.7 L1237.4,425.7 L1136.8,484.3 L1122.4,477 L1103.6,487.6 Z"/>
<path class="t" d="M1122.4,453.4 L1122.4,477 M1136.8,461.1 L1136.8,484.3"/>
<ellipse class="t" cx="1112" cy="472" rx="3.5" ry="4.5"/>
<ellipse class="t" cx="1187.6" cy="443.4" rx="4" ry="5"/><ellipse class="t" cx="1224.1" cy="423.5" rx="4" ry="5"/>
<path class="kw" d="M1164.4,467 L1164.4,512 L1181,504.2 L1181,526.3 L1234,498.7 L1234,429 Z"/>
<path class="t" d="M1185,470 L1192,480 L1234,498.7"/>
<ellipse class="t" cx="1092.0" cy="322.0" rx="4.8" ry="6.6" transform="rotate(-25.0 1092.0 322.0)"/><path class="t" d="M1094.0,313.4 A4.8,6.6 -25.0 0 1 1099.5,325.4"/><path class="t" d="M1098.7,310.8 A4.8,6.6 -25.0 0 1 1104.3,322.7"/><path class="t" d="M1103.5,308.1 A4.8,6.6 -25.0 0 1 1109.0,320.1"/><path class="t" d="M1108.2,305.5 A4.8,6.6 -25.0 0 1 1113.8,317.5"/>
<path class="bw" d="M1112.5,298.8 L1115.3,296.9 L1123,301.6 L1127.4,312.1 L1126.8,314 L1118.6,321.5 L1114,319 Q1110,310 1112.5,298.8 Z"/>
<path class="b" d="M1114.5,300 L1120.5,303.5 L1124.5,313.5 L1118.6,321.5 M1120.5,303.5 L1123,301.6"/>
<ellipse class="bw" cx="1079.2" cy="332.7" rx="12.2" ry="14" transform="rotate(-35 1079.2 332.7)"/>
<ellipse class="b" cx="1080.5" cy="332" rx="10" ry="11.8" transform="rotate(-35 1080.5 332)"/>
<ellipse class="b" cx="1077" cy="334" rx="5.5" ry="7" transform="rotate(-35 1077 334)"/>
<path class="b" d="M1069,330 L1075,328 M1068,334 L1074,331"/>
<path class="t" d="M1034.0,391.4 C1036.7,387.8 1045.7,376.9 1050.0,370.0 C1054.3,363.1 1056.8,355.6 1060.0,350.0 C1063.2,344.4 1067.8,338.4 1069.3,336.1"/>
<ellipse class="t" cx="1203.0" cy="523.0" rx="4.2" ry="6.0" transform="rotate(-30.0 1203.0 523.0)"/><path class="t" d="M1204.2,520.0 A4.2,6.0 -30.0 0 1 1210.2,530.4"/><path class="t" d="M1208.4,522.2 A4.2,6.0 -30.0 0 1 1214.4,532.6"/><path class="t" d="M1212.6,524.4 A4.2,6.0 -30.0 0 1 1218.6,534.8"/><path class="t" d="M1216.8,526.6 A4.2,6.0 -30.0 0 1 1222.8,537.0"/><path class="t" d="M1221.0,528.8 A4.2,6.0 -30.0 0 1 1227.0,539.2"/>
<path class="t" d="M1181,514 L1203,523"/>
<path class="bw" d="M1226.3,536 L1232,530.5 L1242,531 L1245,541 L1240,550.7 L1229,550 Q1225,544 1226.3,536 Z"/>
<path class="b" d="M1229,537 L1238,538 L1240,550.7 M1238,538 L1242,531"/>
<path class="bw" d="M1343,525 L1366.6,511 L1372,521 L1348.5,535.5 Z"/>
<path class="t" d="M1347,522.5 L1352,532"/>
<ellipse class="t" cx="1324.0" cy="541.0" rx="4.0" ry="6.0" transform="rotate(-30.0 1324.0 541.0)"/><path class="t" d="M1325.8,533.1 A4.0,6.0 -30.0 0 1 1331.8,543.4"/><path class="t" d="M1330.5,530.3 A4.0,6.0 -30.0 0 1 1336.5,540.7"/><path class="t" d="M1335.2,527.6 A4.0,6.0 -30.0 0 1 1341.2,537.9"/><path class="t" d="M1340.0,524.8 A4.0,6.0 -30.0 0 1 1346.0,535.2"/>
<ellipse class="tw" cx="1322.8" cy="541.7" rx="4" ry="6" transform="rotate(-30 1322.8 541.7)"/>
<path class="t" d="M1312.2,557 L1322,545"/>
<path class="bw" d="M1366.3,507 L1373,500.5 L1383,502 L1385.7,512 L1380,523.6 L1370,522 Q1365,515 1366.3,507 Z"/>
<path class="b" d="M1369,508 L1379,510 L1380,523.6 M1379,510 L1383,502"/>
<path class="tw" d="M1255.3,550.5 L1258,549 L1260,554 L1300.5,545.2 L1303.4,540.5 L1312.2,559.9 L1311,561 L1268.8,571 L1266.4,570.5 Z"/>
<ellipse class="t" cx="1269.4" cy="561.7" rx="4.5" ry="6"/><ellipse class="t" cx="1300.5" cy="555.2" rx="4" ry="5"/>
<path class="t" d="M1269,568 L1300.5,555 M1312,552 L1322,546"/>
<path class="mw" d="M1238.8,585.7 C1240.7,582.0 1244.0,579.5 1247.6,577.5 C1251.2,575.5 1256.0,574.0 1260.5,574.0 C1265.0,574.0 1269.9,575.1 1274.6,577.5 C1279.3,579.9 1284.4,583.6 1288.7,588.1 C1293.0,592.6 1297.2,598.4 1300.5,604.5 C1303.8,610.6 1306.9,617.8 1308.7,624.5 C1310.5,631.2 1311.1,638.8 1311.1,644.5 C1311.1,650.2 1311.2,654.9 1308.7,658.6 C1306.2,662.3 1299.7,665.2 1295.8,666.8 C1291.9,668.4 1289.5,668.6 1285.2,668.0 C1280.9,667.4 1275.0,666.3 1270.0,663.3 C1265.0,660.3 1260.0,656.4 1255.0,650.0 C1250.0,643.6 1243.2,633.3 1240.0,625.0 C1236.8,616.7 1236.2,606.5 1236.0,600.0 C1235.8,593.5 1236.9,589.5 1238.8,585.7 Z"/>
<path class="k" d="M1255.8,591.6 C1258.0,591.2 1264.5,588.5 1268.8,589.3 C1273.1,590.1 1277.8,592.6 1281.7,596.3 C1285.6,600.0 1289.6,605.5 1292.3,611.6 C1295.0,617.7 1297.5,626.4 1298.1,632.7 C1298.7,639.0 1297.2,645.7 1295.8,649.2 C1294.4,652.7 1290.9,653.1 1289.9,653.9"/>
<path class="t" d="M1255.8,591.6 C1254.6,592.6 1250.0,593.6 1248.8,597.5 C1247.6,601.4 1247.4,608.2 1248.8,615.1 C1250.2,622.0 1253.7,632.5 1257.0,638.6 C1260.3,644.7 1264.5,649.0 1268.8,651.5 C1273.1,654.0 1279.4,653.5 1282.9,653.9 C1286.4,654.3 1288.7,653.9 1289.9,653.9"/>
<path class="t" d="M1265.0,593.0 C1263.8,595.8 1258.5,603.8 1258.0,610.0 C1257.5,616.2 1259.7,624.2 1262.0,630.0 C1264.3,635.8 1267.3,641.7 1272.0,645.0 C1276.7,648.3 1287.0,649.2 1290.0,650.0"/>
<path class="t" d="M1275.0,600.0 C1274.2,602.0 1270.2,607.3 1270.0,612.0 C1269.8,616.7 1271.5,623.3 1274.0,628.0 C1276.5,632.7 1282.0,638.0 1285.0,640.0 C1288.0,642.0 1290.8,640.0 1292.0,640.0"/>
<ellipse class="t" cx="1265.2" cy="581.6" rx="2.5" ry="3"/><ellipse class="t" cx="1304" cy="629.8" rx="2.5" ry="3"/><ellipse class="t" cx="1281.1" cy="662.1" rx="2.5" ry="3"/>
<path class="t" d="M1312.2,623.3 L1331,613 M1331,608 L1350,597 M1333,614 L1352,603 M1335,612 Q1332,607 1335,604 M1340,609 Q1337,604 1340,601 M1345,606 Q1342,601 1345,598 M1350,603 Q1347,598 1350,595"/>
<ellipse class="tw" cx="1357" cy="597.5" rx="11" ry="13" transform="rotate(-15 1357 597.5)"/>
<path class="tw" d="M1352,586 L1360,584 L1368,589 L1370,598 L1365,604 L1356,601 Z"/>
<ellipse class="t" cx="1357" cy="598" rx="8" ry="10" transform="rotate(-15 1357 598)"/>
<path class="w" d="M1158.0,603.5 L1166.0,598.0 L1176.8,592.5 L1193.3,586.6 L1207.2,587.3 L1225.1,597.6 L1239.0,611.5 L1252.8,630.8 L1263.8,652.9 L1269.4,675.0 L1270.0,691.6 L1268.0,702.7 L1250.0,714.0 L1234.8,724.8 L1200,700 L1150,640 Z"/>
<path class="k" d="M1158.0,603.5 C1159.3,602.6 1162.9,599.8 1166.0,598.0 C1169.1,596.2 1172.2,594.4 1176.8,592.5 C1181.3,590.6 1188.2,587.5 1193.3,586.6 C1198.4,585.7 1201.9,585.5 1207.2,587.3 C1212.5,589.1 1219.8,593.6 1225.1,597.6 C1230.4,601.6 1234.4,606.0 1239.0,611.5 C1243.6,617.0 1248.7,623.9 1252.8,630.8 C1256.9,637.7 1261.0,645.5 1263.8,652.9 C1266.6,660.3 1268.4,668.5 1269.4,675.0 C1270.4,681.5 1270.2,687.0 1270.0,691.6 C1269.8,696.2 1271.3,699.0 1268.0,702.7 C1264.7,706.4 1255.5,710.3 1250.0,714.0 C1244.5,717.7 1237.3,723.0 1234.8,724.8"/>
<path class="t" d="M1197.5,740 L1266,702 M1194.7,733.1 L1265.2,691.6"/>
<path class="kw" d="M1091.7,655.7 C1091.3,661.5 1092.3,668.1 1093.8,675.0 C1095.3,681.9 1097.2,689.1 1100.7,697.2 C1104.2,705.3 1108.8,715.4 1114.6,723.4 C1120.4,731.4 1128.4,739.7 1135.3,745.5 C1142.2,751.3 1149.1,755.5 1156.0,758.0 C1162.9,760.5 1170.1,761.2 1176.8,760.7 C1183.5,760.2 1190.1,757.7 1196.1,755.2 C1202.1,752.7 1207.6,749.2 1212.7,745.5 C1217.8,741.8 1222.3,737.4 1226.5,733.1 C1230.7,728.9 1235.5,724.7 1237.6,720.0 C1239.7,715.3 1239.2,709.3 1239.0,705.0 C1238.8,700.7 1237.8,700.3 1236.2,694.4 C1234.6,688.5 1232.3,677.6 1229.3,669.5 C1226.3,661.4 1222.3,653.4 1218.2,646.0 C1214.1,638.6 1210.2,631.3 1204.4,625.3 C1198.7,619.3 1190.6,613.8 1183.7,610.1 C1176.8,606.4 1167.8,604.5 1162.9,603.2 C1158.1,601.9 1158.5,601.6 1154.6,602.5 C1150.7,603.4 1143.5,606.3 1139.4,608.7 C1135.3,611.1 1134.4,613.3 1129.8,617.0 C1125.2,620.7 1117.4,627.0 1111.8,630.8 C1106.2,634.6 1099.3,635.9 1096.0,640.0 C1092.7,644.1 1092.1,649.9 1091.7,655.7 Z"/>
<path class="t" d="M1157.4,607.3 C1161.2,608.2 1172.9,609.5 1180.0,613.0 C1187.1,616.5 1194.3,622.2 1200.0,628.0 C1205.7,633.8 1209.8,640.7 1214.0,648.0 C1218.2,655.3 1222.2,664.0 1225.0,672.0 C1227.8,680.0 1229.7,688.8 1231.0,696.0 C1232.3,703.2 1233.2,709.7 1233.0,715.0 C1232.8,720.3 1230.5,725.8 1230.0,728.0"/>
<path class="t" d="M1142.2,635.0 C1145.7,637.1 1156.5,641.6 1162.9,647.4 C1169.4,653.1 1176.1,661.7 1180.9,669.5 C1185.8,677.3 1189.5,685.6 1192.0,694.4 C1194.5,703.1 1195.6,713.9 1196.1,722.0 C1196.5,730.1 1195.7,737.8 1194.7,742.8 C1193.7,747.8 1190.8,750.5 1190.0,752.0"/>
<path class="mw" d="M1100.7,641.9 C1101.0,635.9 1104.8,634.1 1107.6,632.2 C1110.4,630.4 1112.2,628.9 1117.3,630.8 C1122.4,632.6 1133.8,639.4 1138.0,643.3 C1142.2,647.2 1142.4,649.9 1142.2,654.3 C1142.0,658.7 1138.8,665.6 1136.7,669.5 C1134.6,673.4 1132.8,676.6 1129.8,677.8 C1126.8,678.9 1122.7,678.0 1118.7,676.4 C1114.7,674.8 1109.0,673.8 1106.0,668.0 C1103.0,662.2 1100.4,647.9 1100.7,641.9 Z"/>
<ellipse class="t" cx="1133.9" cy="652.2" rx="3" ry="4"/>
<path class="t" d="M1117.3,629.4 L1151.9,625.3 L1128.4,637.7"/>
<path class="k" d="M1140,634 L1151.9,625.3"/>
<path class="kw" d="M1098,652 L1122,642 Q1130,648 1130,660 Q1129,668 1125.6,669.5 L1106,678 Z"/>
<ellipse class="kw" cx="1102.1" cy="664" rx="11" ry="14.5"/>
<ellipse class="t" cx="1102.1" cy="664.6" rx="8" ry="10.4"/>
<path class="t" d="M1080,680.6 L1135.3,651.5"/>
<path class="tw" d="M1034.5,688.6 Q1036,672 1042.2,669.4 Q1046,665 1051.1,666.2 L1076.7,678.3 Q1083,682 1081.8,687.3 L1074.1,709 Q1070,714 1062.6,713.5 L1039.6,702.6 Q1034,697 1034.5,688.6 Z"/>
<ellipse class="t" cx="1057.5" cy="691.1" rx="11" ry="15" transform="rotate(-25 1057.5 691.1)"/>
<ellipse class="t" cx="1057.5" cy="691.1" rx="9" ry="13" transform="rotate(-25 1057.5 691.1)"/>
<ellipse class="t" cx="1040.9" cy="695" rx="3" ry="4"/><ellipse class="t" cx="1072.8" cy="686.6" rx="3" ry="4"/>
<path class="t" d="M1010,697 L1072,686 M1014,707 L1095,674"/>
<ellipse class="t" cx="1010" cy="697" rx="4" ry="5"/>
</g>
<g id="tank">
<path class="kw" d="M480.8,240.5 Q484,237.5 487.4,236.8 L735.5,92.5 Q741,90 748,91.8 L830,134 Q850,146 852,170 L852.6,236 Q852,262 830,273.8 L596,404 Q588,408 580,404 L503.4,359.5 Q490,350 483,329 L470.5,272 Q470,262 473,256 L477,246 Q478,242 480.8,240.5 Z"/>
<path class="t" d="M487.4,236.8 Q500,238 512,241.5 L758.2,97.5 M518.5,242.8 L728,120.5 M518.5,242.8 L588.4,284.9 Q598,292 600.7,312.3 Q603,295 618.6,285.9 M597.9,286.7 L613,286.7 M618.6,285.9 L837.5,160.5 Q845,158 851.7,164.3 M841.3,147.3 Q843,155 837.5,160.5 M600.7,312.3 L600.7,399.2 L607,396"/>
<path class="kw" d="M514.8,299.1 L530.8,287.7 Q533,287 536,288.5 L552,297.5 Q556.3,301 556.3,306 L556.3,352 L539.3,361.4 Q537,362.5 534,361 L522,353 Q516.7,349 516.7,344 L514.8,304 Z"/>
<path class="t" d="M519,297.3 L537,307 Q542.2,310 542.2,316 L542.2,359.5"/>
<path class="mw" d="M729,124 L729,150 Q732,157 742,160 L744,165 Q755,171 767,171 Q780,171 790,165 L792,160 Q802,157 804.5,150 L804.5,124 Z"/>
<ellipse class="mw" cx="767" cy="122" rx="37.5" ry="19"/>
<ellipse class="t" cx="767" cy="121" rx="29" ry="12"/>
<path class="t" d="M768.6,110.5 L768.6,132 M779.4,110.5 L779.4,132"/>
<path class="k" d="M731,140 Q767,160 803,138 M733,151 Q767,167 801,149"/>
<path class="m" d="M742,110 Q748,105 754,104"/>
</g>
<g id="cap">
<path class="kw" d="M746.3,22.6 Q756,18.5 767.7,18.5 Q775,18.8 780.8,20.5 L794.6,28.1 L804.3,30.2 L810.5,46.8 L810.5,57.8 L798.8,60.6 L798.8,71.7 L775.3,77.2 L771.1,83.4 L768.4,81.3 L741.4,76.5 L740.7,72.4 L731,68.2 L724.8,63.4 L724.8,50.9 L726.9,49.6 L727.6,33.7 L734,31 Z"/>
<path class="t" d="M731,68 Q745,85 768,85.5 Q792,85 804,68"/>
<ellipse class="t" cx="767.4" cy="50.3" rx="33.5" ry="14.5"/>
<ellipse class="t" cx="768.5" cy="46" rx="28.5" ry="10"/>
<path class="m" d="M744.9,50 Q745.5,21.6 768.8,21.6 Q792,21.6 792.6,50"/>
<path class="t" d="M744.9,50 Q750,55 768.8,55 Q787,55 792.6,50 M747,48 Q755,53.5 768.8,53.5"/>
<path class="f" d="M745.5,44 Q747,27 760,23 L768,22 Q754,29 750.5,45.5 Z"/>
<path class="m" d="M740.7,63.4 L740.7,75.8 M774.6,67.5 L774.6,77.2 M798.8,60 L798.8,72.4 M727.6,53.7 L727.6,63.4"/>
<path class="t" d="M747,66 L747,78 M749,66.5 L749,78.5 M767.7,68 L767.7,80 M791.9,64 L791.9,74 M805.7,49.5 L805.7,59 M807.8,49 L807.8,58.5 M730.4,53.7 L730.4,65"/>
<path class="m" d="M734,31 Q739,33 741,39 M794.6,28.1 Q799,35 801,42"/>
</g>

<g id="labels">
<path d="M563,193.3 L572.5,187.7 M608.5,489.5 L617.5,482 M213.5,483.9 L224.5,477.6 M1176.5,343.9 L1187.5,350.4" style="stroke:#fff;stroke-width:5;fill:none"/>
<path class="f" d="M866.4,36.2 L817.6,49.5 L817.8,50.5 L867.2,39.4 Z"/>
<path class="f" d="M541.3,152.3 L567.9,196.5 L568.7,196.1 L544.3,150.7 Z"/>
<path class="f" d="M848.1,304.5 L799.3,318.0 L799.5,319.0 L848.9,307.7 Z"/>
<path class="f" d="M868.8,363.2 L819.3,376.7 L819.5,377.7 L869.6,366.4 Z"/>
<path class="f" d="M942.7,392.2 L892.6,406.5 L892.8,407.5 L943.5,395.4 Z"/>
<path class="f" d="M265.9,342.3 L292.0,385.2 L292.8,384.8 L268.9,340.7 Z"/>
<path class="f" d="M194.2,435.6 L221.6,478.1 L222.4,477.5 L197.2,433.8 Z"/>
<path class="f" d="M460.2,753.6 L409.5,747.3 L409.3,748.3 L459.8,757.0 Z"/>
<path class="f" d="M575.1,472.8 L624.6,485.8 L624.8,484.8 L576.1,469.6 Z"/>
<path class="f" d="M554.8,1426.4 L589.4,1390.9 L588.6,1390.1 L552.4,1424.0 Z"/>
<path class="f" d="M886.5,1529.8 L836.6,1524.1 L836.4,1525.1 L886.1,1533.2 Z"/>
<path class="f" d="M822.3,1666.9 L773.2,1675.6 L773.4,1676.6 L822.9,1670.3 Z"/>
<path class="f" d="M691.0,1708.4 L741.0,1719.9 L741.2,1718.9 L691.8,1705.2 Z"/>
<path class="f" d="M693.5,1629.2 L735.5,1639.8 L735.7,1638.8 L694.5,1626.0 Z"/>
<path class="f" d="M1103.2,819.7 L1069.5,716.5 L1068.5,716.9 L1100.0,820.7 Z"/>
<path class="f" d="M1263.7,767.6 L1230.8,728.1 L1230.0,728.7 L1261.1,769.8 Z"/>
<path class="f" d="M1324.2,704.5 L1298.2,660.3 L1297.4,660.7 L1321.2,706.1 Z"/>
<path class="f" d="M1372.2,663.9 L1358.5,613.9 L1357.5,614.1 L1369.0,664.7 Z"/>
<path class="f" d="M1363.9,556.6 L1313.1,556.7 L1313.1,557.7 L1363.9,560.0 Z"/>
<path class="f" d="M1365.7,470.5 L1352.4,519.5 L1353.4,519.7 L1368.9,471.5 Z"/>
<path class="f" d="M1205.7,304.8 L1181.7,346.9 L1182.5,347.5 L1208.7,306.6 Z"/>
<path class="f" d="M1074.0,263.3 L1110.8,298.4 L1111.6,297.6 L1076.4,260.9 Z"/>
<path class="f" d="M1278.7,498.5 L1242.6,534.2 L1243.2,535.0 L1281.1,500.9 Z"/>
<path class="f" d="M1016.9,310.1 L1064.8,323.4 L1065.0,322.4 L1017.9,306.9 Z"/>
<path d="M883.32,32.28 Q887.34,30.28 889.34,27.28 L889.34,42.22" style="fill:none;stroke:#000;stroke-width:2.0;stroke-linejoin:miter"/>
<text x="534.18" y="142.98">2</text>
<text x="858.20" y="312.57">3</text>
<text x="880.20" y="366.47">4</text>
<text x="951.35" y="399.66">5</text>
<text x="259.41" y="334.12">6</text>
<text x="188.07" y="425.32">7</text>
<text x="467.73" y="766.97">8</text>
<text x="559.14" y="477.62">9</text>
<path d="M533.65,1439.98 Q537.67,1437.98 539.67,1434.98 L539.67,1449.92" style="fill:none;stroke:#000;stroke-width:2.0;stroke-linejoin:miter"/>
<path d="M545.88,1439.98 Q549.90,1437.98 551.90,1434.98 L551.90,1449.92" style="fill:none;stroke:#000;stroke-width:2.0;stroke-linejoin:miter"/>
<path d="M896.18,1538.24 Q900.20,1536.24 902.20,1533.24 L902.20,1548.18" style="fill:none;stroke:#000;stroke-width:2.0;stroke-linejoin:miter"/>
<text x="905.19" y="1548.18">2</text>
<path d="M834.86,1661.24 Q838.88,1659.24 840.88,1656.24 L840.88,1671.17" style="fill:none;stroke:#000;stroke-width:2.0;stroke-linejoin:miter"/>
<text x="843.87" y="1671.17">3</text>
<path d="M662.55,1705.73 Q666.57,1703.73 668.57,1700.73 L668.57,1715.67" style="fill:none;stroke:#000;stroke-width:2.0;stroke-linejoin:miter"/>
<text x="671.56" y="1715.67">4</text>
<path d="M663.14,1624.92 Q667.16,1622.92 669.16,1619.92 L669.16,1634.86" style="fill:none;stroke:#000;stroke-width:2.0;stroke-linejoin:miter"/>
<text x="672.15" y="1634.86">5</text>
<path d="M1102.76,840.84 Q1106.78,838.84 1108.78,835.84 L1108.78,850.77" style="fill:none;stroke:#000;stroke-width:2.0;stroke-linejoin:miter"/>
<text x="1111.77" y="850.77">6</text>
<path d="M1267.33,786.93 Q1271.35,784.93 1273.35,781.93 L1273.35,796.87" style="fill:none;stroke:#000;stroke-width:2.0;stroke-linejoin:miter"/>
<text x="1276.34" y="796.87">7</text>
<path d="M1323.85,725.34 Q1327.87,723.34 1329.87,720.34 L1329.87,735.27" style="fill:none;stroke:#000;stroke-width:2.0;stroke-linejoin:miter"/>
<text x="1332.87" y="735.27">8</text>
<path d="M1370.85,683.34 Q1374.87,681.34 1376.87,678.34 L1376.87,693.27" style="fill:none;stroke:#000;stroke-width:2.0;stroke-linejoin:miter"/>
<text x="1379.86" y="693.27">9</text>
<text x="1372.04" y="568.37">2</text>
<text x="1384.28" y="568.37">0</text>
<text x="1361.78" y="464.83">2</text>
<path d="M1377.24,454.89 Q1381.26,452.89 1383.26,449.89 L1383.26,464.83" style="fill:none;stroke:#000;stroke-width:2.0;stroke-linejoin:miter"/>
<text x="1207.41" y="300.13">2</text>
<text x="1219.65" y="300.13">2</text>
<text x="1050.24" y="258.32">2</text>
<text x="1062.48" y="258.32">3</text>
<text x="1281.14" y="489.02">2</text>
<text x="1293.38" y="489.02">3</text>
<text x="983.33" y="315.08">2</text>
<text x="995.57" y="315.08">4</text>
</g>
<g id="logo">
<text x="1286.7" y="1785.3" style="font-family:'Liberation Serif',serif;font-size:36.5px;letter-spacing:2px;fill:#c8c8c8" transform="translate(1,1)"><tspan>motoruf</tspan></text>
<text x="1286.7" y="1785.3" style="font-family:'Liberation Serif',serif;font-size:36.5px;letter-spacing:2px"><tspan style="fill:#4a6cc0;stroke:#4a6cc0;stroke-width:0.6">m</tspan><tspan style="fill:#3fae44;stroke:#3fae44;stroke-width:0.6">o</tspan><tspan style="fill:#e860a4;stroke:#e860a4;stroke-width:0.6">t</tspan><tspan style="fill:#22a444;stroke:#22a444;stroke-width:0.6">o</tspan><tspan style="fill:#e8521e;stroke:#e8521e;stroke-width:0.6">r</tspan><tspan style="fill:#f4a41e;stroke:#f4a41e;stroke-width:0.6">u</tspan><tspan style="fill:#f2c800;stroke:#f2c800;stroke-width:0.6">f</tspan></text>
<text x="1415.5" y="1785.3" style="font-family:'Liberation Serif',serif;font-size:16px;fill:#3c3c20">.de</text>
<circle cx="1421" cy="1760.5" r="0.9" fill="#666"/>
</g>

</svg>
</body></html>
